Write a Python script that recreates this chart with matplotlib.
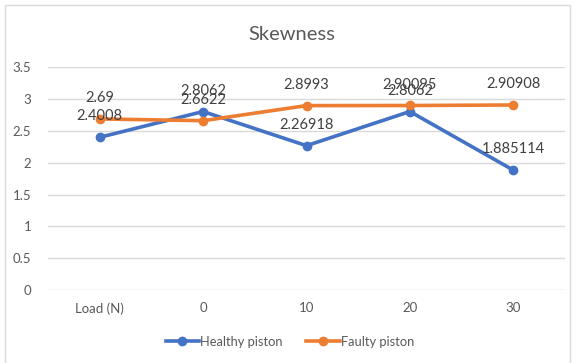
#!/usr/bin/env python3
# skewness chart: healthy vs faulty piston, line chart with data labels

import matplotlib
matplotlib.use("Agg")
import matplotlib.pyplot as plt
from matplotlib.patches import Rectangle

categories = ["Load (N)", "0", "10", "20", "30"]
healthy = [2.4008, 2.8062, 2.26918, 2.8062, 1.885114]
faulty = [2.69, 2.6622, 2.8993, 2.90095, 2.90908]
healthy_labels = ["2.4008", "2.8062", "2.26918", "2.8062", "1.885114"]
faulty_labels = ["2.69", "2.6622", "2.8993", "2.90095", "2.90908"]
yticks = [0, 0.5, 1, 1.5, 2, 2.5, 3, 3.5]

BLUE = "#4472C4"
ORANGE = "#ED7D31"
GRAY = "#595959"

plt.rcParams["font.family"] = ["Lato", "DejaVu Sans"]

fig = plt.figure(figsize=(5.78, 3.63), dpi=100)
ax = fig.add_axes([48/578, 1-290/363, (565-48)/578, (290-67.4)/363])

xs = list(range(len(categories)))
ax.plot(xs, healthy, color=BLUE, lw=2.6, marker="o", ms=6, label="Healthy piston", zorder=3)
ax.plot(xs, faulty, color=ORANGE, lw=2.6, marker="o", ms=6, label="Faulty piston", zorder=3)

# data labels sit above the points, like the spreadsheet default
for x, y, t in zip(xs, healthy, healthy_labels):
    ax.annotate(t, (x, y), xytext=(0, 15), textcoords="offset points",
                ha="center", va="center", fontsize=10.5, color="#404040")
for x, y, t in zip(xs, faulty, faulty_labels):
    ax.annotate(t, (x, y), xytext=(0, 15), textcoords="offset points",
                ha="center", va="center", fontsize=10.5, color="#404040")

ax.set_xlim(-0.5, 4.5)
ax.set_ylim(0, 3.5)
ax.set_yticks(yticks)
ax.set_yticklabels([f"{v:g}" for v in yticks])
ax.set_xticks(xs)
ax.set_xticklabels(categories)
ax.tick_params(axis="both", length=0, labelsize=9.5, labelcolor=GRAY)
ax.tick_params(axis="y", pad=12)
ax.tick_params(axis="x", pad=9)
ax.grid(axis="y", color="#D9D9D9", lw=1)
ax.set_axisbelow(True)
for s in ax.spines.values():
    s.set_visible(False)

fig.text(292/578, 1-35/363, "Skewness", ha="center", va="center", fontsize=14.5, color=GRAY)

fig.legend(loc="center", bbox_to_anchor=(290/578, 1-342/363), ncol=2, frameon=False,
           fontsize=9.3, labelcolor=GRAY, handlelength=2.6, handletextpad=0.1, columnspacing=1.8)

fig.patches.append(Rectangle((5/578, -0.05), 565/578, 1-5/363+0.05, transform=fig.transFigure,
                             fill=False, edgecolor="#D9D9D9", lw=1))

fig.savefig("out.png", dpi=100)
